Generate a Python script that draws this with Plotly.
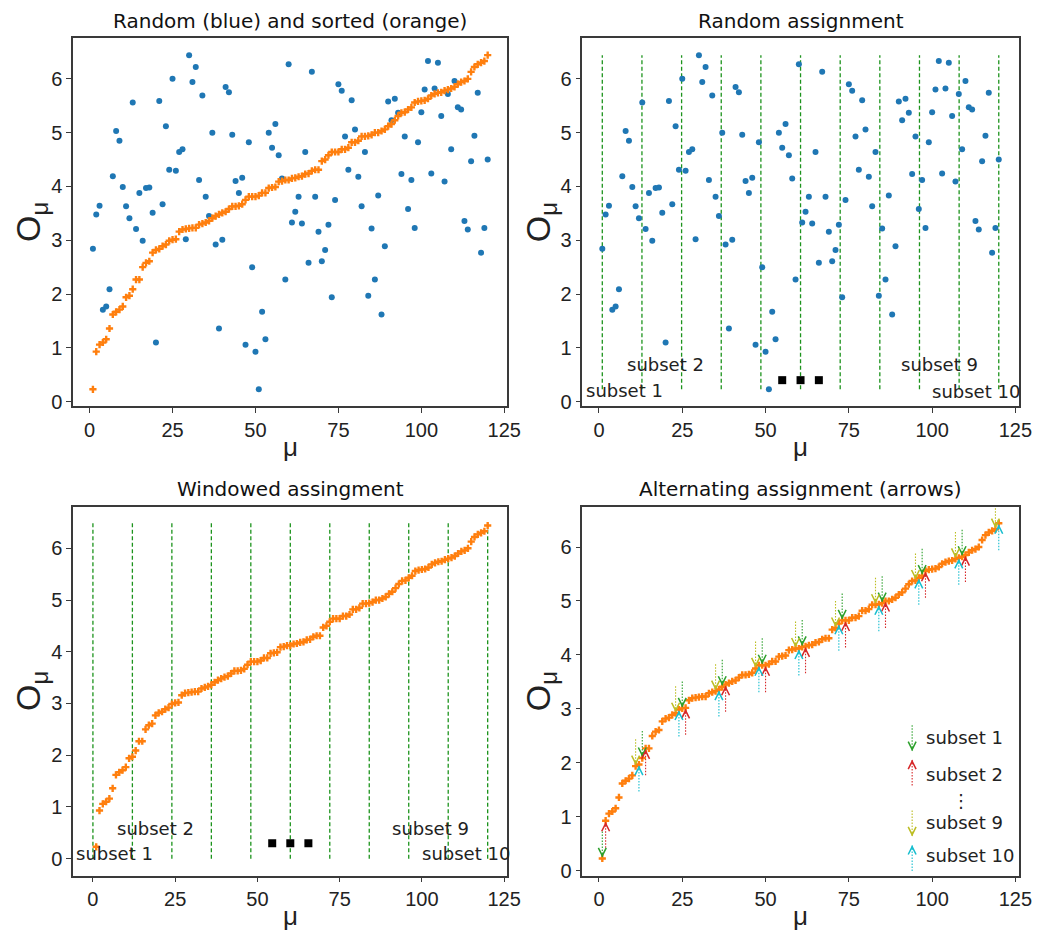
import plotly.graph_objects as go

# ---------------- data ----------------
mu = list(range(1, 121))
O_random = [
    2.84, 3.48, 3.64, 1.71, 1.77, 2.09, 4.19, 5.03, 4.85, 3.99,
    3.63, 3.41, 5.56, 3.21, 3.88, 2.99, 3.97, 3.98, 3.51, 1.10,
    5.59, 3.67, 5.12, 4.31, 6.00, 4.29, 4.64, 4.69, 3.02, 6.44,
    5.94, 6.22, 4.12, 5.69, 3.81, 3.45, 5.00, 2.92, 1.36, 3.01,
    5.85, 5.75, 4.96, 4.10, 3.88, 4.16, 1.06, 4.82, 2.50, 0.93,
    0.23, 1.67, 1.16, 5.00, 4.72, 5.16, 4.58, 4.15, 2.27, 6.27,
    3.33, 3.53, 3.81, 3.31, 4.64, 2.58, 6.13, 3.81, 3.16, 2.61,
    2.82, 3.29, 1.94, 3.75, 5.90, 5.78, 4.93, 4.31, 5.60, 5.06,
    4.18, 3.63, 4.64, 1.97, 3.22, 2.27, 3.83, 1.62, 2.89, 5.58,
    5.23, 5.63, 5.37, 4.23, 4.93, 3.58, 4.12, 3.23, 4.82, 5.38,
    5.80, 6.33, 4.24, 5.82, 6.30, 5.31, 4.09, 5.72, 4.69, 5.96,
    5.47, 5.43, 3.36, 3.20, 4.47, 4.94, 5.74, 2.77, 3.23, 4.50,
]
O_sorted = sorted(O_random)

random_bounds = [1, 12.9, 24.8, 36.7, 48.6, 60.5, 72.4, 84.3, 96.2, 108.1, 120]
window_bounds = [0, 12, 24, 36, 48, 60, 72, 84, 96, 108, 120]
window_line_top = 6.5

dots_x_random = [55, 60.5, 66]
dots_y_random = [0.4, 0.4, 0.4]
dots_x_window = [54.5, 60, 65.5]
dots_y_window = [0.3, 0.3, 0.3]

subset1_idx = [1, 13, 25, 37, 49, 61, 73, 85, 97, 109]
subset2_idx = [2, 14, 26, 38, 50, 62, 74, 86, 98, 110]
subset9_idx = [11, 23, 35, 47, 59, 71, 83, 95, 107, 119]
subset10_idx = [12, 24, 36, 48, 60, 72, 84, 96, 108, 120]
arrow_len = 0.5

legend_arrow_x = 94
legend_tips = [2.2, 2.08, 0.62, 0.5]
legend_tails = [2.7, 1.58, 1.12, 0.0]
legend_labels = ["subset 1", "subset 2", "subset 9", "subset 10"]
legend_label_y = [2.47, 1.78, 0.89, 0.29]

# ---------------- style ----------------
W, H = 1047, 933
BLUE = "#1f77b4"
ORANGE = "#ff7f0e"
VGREEN = "#1c931c"
C_S1 = "#2ca02c"
C_S2 = "#d62728"
C_S9 = "#bcbd22"
C_S10 = "#17becf"
FRAME = "#3a3a3a"
TICKFONT = dict(family="Liberation Sans, Arial, sans-serif", size=20, color="#222")
TXTFONT = dict(family="DejaVu Sans, sans-serif", size=18, color="#222")
TITLEFONT = dict(family="DejaVu Sans, sans-serif", size=20, color="#111")


def px_x(p):
    return p / W


def px_y(p):
    return 1 - p / H


# plot areas in pixels: (left, right, top, bottom)
areas = {
    1: (66, 505.7, 30.7, 401),
    2: (581.7, 1023.3, 30.7, 401),
    3: (66, 505.7, 502.7, 874.3),
    4: (581.7, 1023.3, 502.3, 874.3),
}
xranges = {1: [-4.95, 125.95], 2: [-4.95, 125.95], 3: [-6, 126], 4: [-4.95, 125.95]}
yranges = {1: [-0.08, 6.75], 2: [-0.08, 6.75], 3: [-0.33, 6.8], 4: [-0.09, 6.75]}
titles = {
    1: "Random (blue) and sorted (orange)",
    2: "Random assignment",
    3: "Windowed assingment",
    4: "Alternating assignment (arrows)",
}

fig = go.Figure()
layout = dict(
    width=W, height=H, margin=dict(l=0, r=0, t=0, b=0),
    paper_bgcolor="white", plot_bgcolor="white", showlegend=False,
)
annotations = []

for k in range(1, 5):
    l, r, t, b = areas[k]
    sx = "" if k == 1 else str(k)
    layout["xaxis" + sx] = dict(
        domain=[px_x(l), px_x(r)], anchor="y" + sx, range=xranges[k],
        showline=True, mirror=True, linecolor=FRAME, linewidth=1.5,
        ticks="outside", ticklen=5, tickwidth=1.3, tickcolor=FRAME,
        showgrid=False, zeroline=False, tickfont=TICKFONT,
        tickvals=[0, 25, 50, 75, 100, 125],
    )
    layout["yaxis" + sx] = dict(
        domain=[px_y(b), px_y(t)], anchor="x" + sx, range=yranges[k],
        showline=True, mirror=True, linecolor=FRAME, linewidth=1.5,
        ticks="outside", ticklen=5, tickwidth=1.3, tickcolor=FRAME,
        showgrid=False, zeroline=False, tickfont=TICKFONT,
        tickvals=[0, 1, 2, 3, 4, 5, 6],
    )
    cx = (l + r) / 2
    annotations.append(dict(
        text=titles[k], x=px_x(cx), y=px_y(t - 18), xref="paper", yref="paper",
        xanchor="center", yanchor="middle", showarrow=False, font=TITLEFONT,
    ))
    # x title
    annotations.append(dict(
        text="μ", x=px_x(cx), y=px_y(b + 41), xref="paper", yref="paper",
        xanchor="center", yanchor="middle", showarrow=False,
        font=dict(family="Liberation Sans, Arial, sans-serif", size=26, color="#222"),
    ))
    # y title
    annotations.append(dict(
        text="O<sub>μ</sub>", x=px_x(l - 43), y=px_y((t + b) / 2), xref="paper", yref="paper",
        xanchor="center", yanchor="middle", showarrow=False, textangle=-90,
        font=dict(family="Liberation Sans, Arial, sans-serif", size=34, color="#222"),
    ))


def vlines(bounds, y0, y1, xa, ya):
    xs, ys = [], []
    for bb in bounds:
        xs += [bb, bb, None]
        ys += [y0, y1, None]
    return go.Scatter(x=xs, y=ys, mode="lines", xaxis=xa, yaxis=ya,
                      line=dict(color=VGREEN, width=1.3, dash="4px,2.5px"), hoverinfo="skip")


blue_marker = dict(color=BLUE, size=6, symbol="circle")
orange_marker = dict(color=ORANGE, size=6, symbol="cross")

# ---- subplot 1
fig.add_trace(go.Scatter(x=mu, y=O_random, mode="markers", marker=blue_marker, xaxis="x", yaxis="y"))
fig.add_trace(go.Scatter(x=mu, y=O_sorted, mode="markers", marker=orange_marker, xaxis="x", yaxis="y"))

# ---- subplot 2
fig.add_trace(vlines(random_bounds, min(O_random), max(O_random), "x2", "y2"))
fig.add_trace(go.Scatter(x=mu, y=O_random, mode="markers", marker=blue_marker, xaxis="x2", yaxis="y2"))
fig.add_trace(go.Scatter(x=dots_x_random, y=dots_y_random, mode="markers", xaxis="x2", yaxis="y2",
                         marker=dict(color="black", size=8, symbol="square")))

# ---- subplot 3
fig.add_trace(vlines(window_bounds, 0, window_line_top, "x3", "y3"))
fig.add_trace(go.Scatter(x=mu, y=O_sorted, mode="markers", marker=orange_marker, xaxis="x3", yaxis="y3"))
fig.add_trace(go.Scatter(x=dots_x_window, y=dots_y_window, mode="markers", xaxis="x3", yaxis="y3",
                         marker=dict(color="black", size=8, symbol="square")))

# subset labels
for (xa, ya, items) in [
    ("x2", "y2", [("subset 1", -4.4, 0.21), ("subset 2", 7.9, 0.69),
                  ("subset 9", 90, 0.69), ("subset 10", 99.4, 0.19)]),
    ("x3", "y3", [("subset 1", -5.8, 0.1), ("subset 2", 6.7, 0.58),
                  ("subset 9", 90.2, 0.58), ("subset 10", 99.4, 0.1)]),
]:
    for txt, xx, yy in items:
        annotations.append(dict(text=txt, x=xx, y=yy, xref=xa, yref=ya, xanchor="left",
                                yanchor="middle", showarrow=False, font=TXTFONT))

# ---- subplot 4
fig.add_trace(go.Scatter(x=mu, y=O_sorted, mode="markers", marker=orange_marker, xaxis="x4", yaxis="y4"))


def add_arrows(xs, tips, tails, color):
    sx, sy = [], []
    for x, tip, tail in zip(xs, tips, tails):
        sx += [x, x, None]
        sy += [tail, tip, None]
        down = tail > tip
        annotations.append(dict(
            x=x, y=tip, xref="x4", yref="y4", text="", showarrow=True,
            ax=0, ay=-7 if down else 7, arrowhead=5, arrowsize=2.2, arrowwidth=0.7,
            arrowcolor=color, standoff=1,
        ))
    fig.add_trace(go.Scatter(x=sx, y=sy, mode="lines", xaxis="x4", yaxis="y4",
                             line=dict(color=color, width=1.1, dash="1.5px,1.5px"), hoverinfo="skip"))


for idx, color, down in [(subset1_idx, C_S1, True), (subset2_idx, C_S2, False),
                         (subset9_idx, C_S9, True), (subset10_idx, C_S10, False)]:
    tips = [O_sorted[i - 1] for i in idx]
    tails = [v + arrow_len if down else v - arrow_len for v in tips]
    add_arrows(idx, tips, tails, color)

# legend arrows
for tip, tail, color in zip(legend_tips, legend_tails, [C_S1, C_S2, C_S9, C_S10]):
    add_arrows([legend_arrow_x], [tip], [tail], color)
for lab, yy in zip(legend_labels, legend_label_y):
    annotations.append(dict(text=lab, x=97.5, y=yy, xref="x4", yref="y4", xanchor="left",
                            yanchor="middle", showarrow=False, font=TXTFONT))
annotations.append(dict(text="⋮", x=108.6, y=1.3, xref="x4", yref="y4", xanchor="center",
                        yanchor="middle", showarrow=False, font=TXTFONT))

layout["annotations"] = annotations
fig.update_layout(**layout)
fig.write_html("out.html")
